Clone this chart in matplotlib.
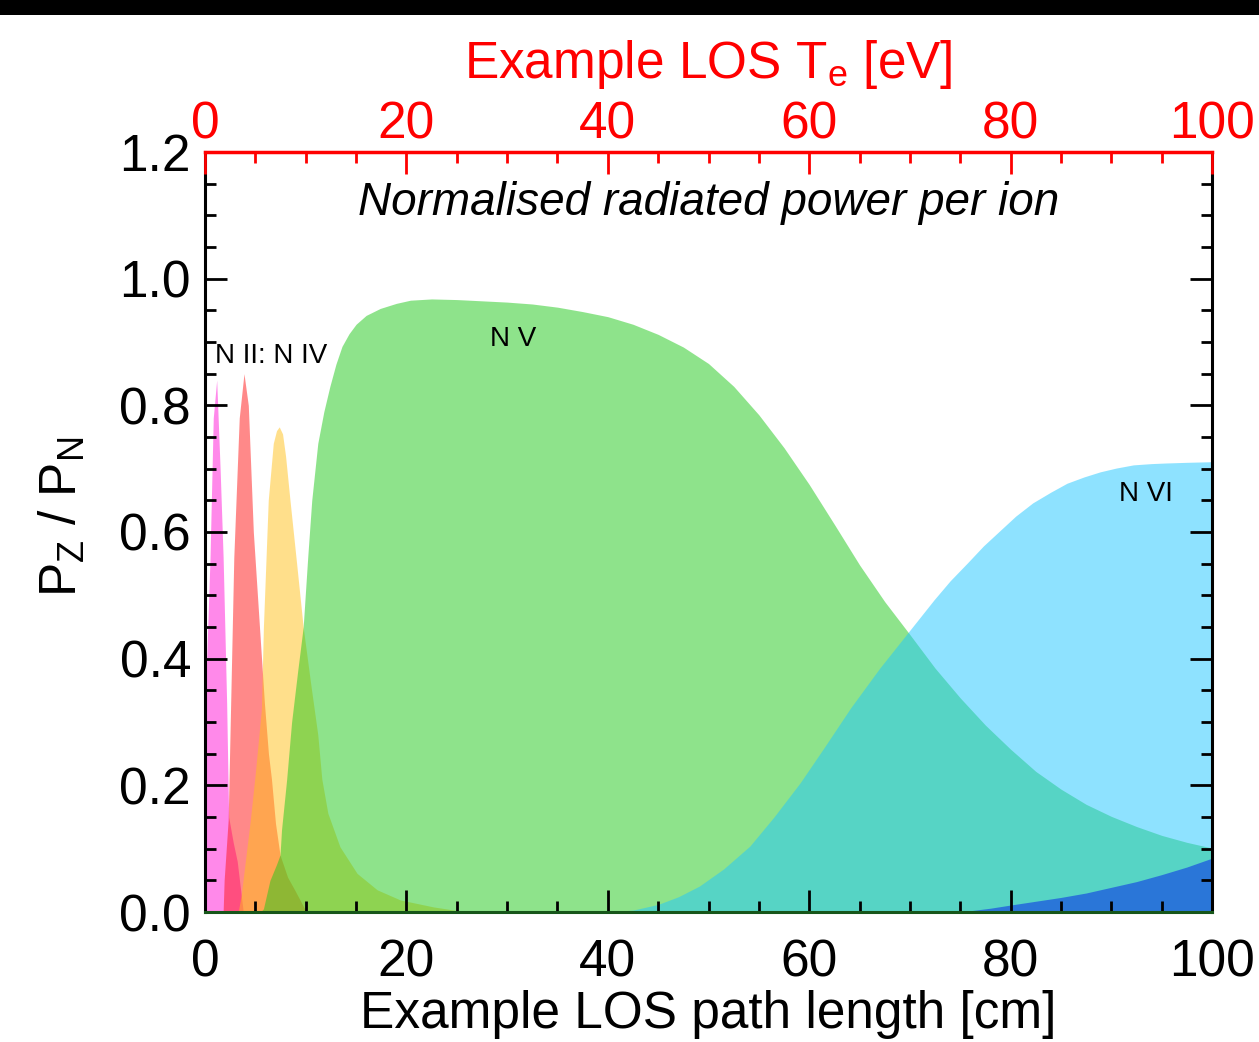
import numpy as np
import matplotlib
matplotlib.use("Agg")
import matplotlib.pyplot as plt
from matplotlib.ticker import MultipleLocator, FormatStrFormatter
from matplotlib.patches import Rectangle

plt.rcParams['font.family'] = ['Liberation Sans', 'DejaVu Sans']

# ---- data ----
# path length [cm] / normalised radiated power per ion
pink_x = [0.0, 0.5, 0.82, 1.16, 1.5, 1.8, 2.15, 2.35, 2.8, 3.2, 3.8]
pink_y = [0.32, 0.56, 0.78, 0.84, 0.70, 0.56, 0.33, 0.15, 0.11, 0.08, 0.0]

red_x = [1.8, 1.9, 2.3, 2.55, 2.86, 3.4, 3.87, 4.3, 4.8, 5.45, 5.9, 6.3, 6.6, 7.0, 7.45, 8.2, 8.9, 9.9, 10.3]
red_y = [0.0, 0.05, 0.145, 0.33, 0.56, 0.78, 0.85, 0.80, 0.60, 0.44, 0.33, 0.25, 0.21, 0.14, 0.09, 0.055, 0.035, 0.005, 0.0]

yel_x = [3.3, 3.6, 4.5, 5.0, 5.6, 5.8, 6.28, 6.78, 7.1, 7.37, 7.7, 8.0, 8.44, 9.1, 9.75, 10.5, 11.2,
         11.6, 12.2, 13.4, 15.1, 17.1, 19.4, 22.7, 26.0]
yel_y = [0.0, 0.027, 0.145, 0.22, 0.32, 0.45, 0.65, 0.74, 0.76, 0.766, 0.755, 0.72, 0.65, 0.55, 0.45, 0.36, 0.28,
         0.21, 0.156, 0.103, 0.061, 0.035, 0.019, 0.008, 0.0]

grn_x = [5.5, 5.8, 6.45, 7.1, 7.45, 7.6, 8.1, 8.6, 9.2, 9.75, 10.2, 10.6, 11.2, 11.8, 12.4, 13.0, 13.6,
         14.3, 15.0, 16.0, 17.4, 19.0, 20.4, 22.5, 25.0, 27.5, 30.0, 32.5, 35.0, 37.5, 40.0, 42.5,
         45.0, 47.5, 50.0, 52.5, 55.0, 57.5, 60.0, 62.5, 65.0, 67.5, 70.0, 72.5, 75.0, 77.5, 80.0,
         82.5, 85.0, 87.5, 90.0, 92.5, 95.0, 97.5, 100.0]
grn_y = [0.0, 0.005, 0.05, 0.075, 0.09, 0.13, 0.208, 0.30, 0.38, 0.45, 0.56, 0.65, 0.74, 0.79, 0.83, 0.865, 0.893,
         0.913, 0.928, 0.942, 0.953, 0.961, 0.966, 0.968, 0.967, 0.965, 0.963, 0.960, 0.955, 0.948, 0.940, 0.928,
         0.912, 0.892, 0.866, 0.830, 0.785, 0.733, 0.675, 0.612, 0.548, 0.490, 0.438, 0.385, 0.338, 0.295, 0.257,
         0.222, 0.194, 0.170, 0.151, 0.135, 0.121, 0.110, 0.101]

cyn_x = [40.0, 42.5, 45.0, 47.0, 49.1, 51.5, 54.1, 56.5, 59.1, 61.5, 64.1, 67.0, 69.8, 72.4, 74.0, 75.7,
         77.3, 79.0, 80.5, 82.2, 84.0, 85.6, 87.3, 88.9, 90.5, 92.2, 94.0, 95.5, 97.5, 100.0]
cyn_y = [0.0, 0.003, 0.012, 0.024, 0.041, 0.068, 0.104, 0.150, 0.204, 0.260, 0.322, 0.385, 0.441, 0.493, 0.523, 0.551,
         0.578, 0.603, 0.625, 0.646, 0.663, 0.677, 0.687, 0.695, 0.701, 0.706, 0.708, 0.709, 0.710, 0.711]

blu_x = [74.0, 76.0, 78.0, 80.0, 82.5, 85.0, 87.5, 90.0, 92.5, 95.0, 97.5, 100.0]
blu_y = [0.0, 0.002, 0.006, 0.011, 0.017, 0.023, 0.030, 0.039, 0.048, 0.059, 0.071, 0.085]

x_ticks = [0, 20, 40, 60, 80, 100]
te_ticks = [0, 20, 40, 60, 80, 100]
y_ticks = [0.0, 0.2, 0.4, 0.6, 0.8, 1.0, 1.2]

labels = [("N II: N IV", 6.6, 0.878), ("N V", 30.6, 0.904), ("N VI", 93.4, 0.66)]

series = [
    (pink_x, pink_y, '#ff15d7'),
    (red_x, red_y, '#ff1515'),
    (yel_x, yel_y, '#ffc119'),
    (grn_x, grn_y, '#1fc919'),
    (cyn_x, cyn_y, '#1fc7ff'),
    (blu_x, blu_y, '#0019eb'),
]

# ---- figure ----
fig = plt.figure(figsize=(12.59, 10.42), dpi=100)
fig.patches.append(Rectangle((0, 1 - 15 / 1042), 1, 15 / 1042, transform=fig.transFigure,
                             facecolor='black', edgecolor='none', zorder=0))

ax = fig.add_axes([205 / 1259, 1 - 912 / 1042, 1007 / 1259, 760 / 1042])

for xs, ys, c in series:
    ax.fill_between(xs, ys, 0, color=c, alpha=0.5, lw=0)

ax.set_xlim(0, 100)
ax.set_ylim(0, 1.2)

ax.xaxis.set_minor_locator(MultipleLocator(5))
ax.yaxis.set_minor_locator(MultipleLocator(0.05))
ax.set_xticks(x_ticks)
ax.set_xticklabels([str(t) for t in x_ticks])
ax.set_yticks(y_ticks)
ax.yaxis.set_major_formatter(FormatStrFormatter('%.1f'))

ax.tick_params(which='both', direction='in', top=False, right=True, width=2,
               labelsize=37, color='black')
ax.tick_params(which='major', length=16)
ax.tick_params(which='minor', length=8)
ax.tick_params(axis='x', pad=19)
ax.tick_params(axis='y', pad=10)

for s in ['left', 'right']:
    ax.spines[s].set_linewidth(2.2)
    ax.spines[s].set_color('black')
ax.spines['bottom'].set_linewidth(2.2)
ax.spines['bottom'].set_color('#17561a')
ax.spines['top'].set_visible(False)

ax.set_xlabel('Example LOS path length [cm]', fontsize=37, labelpad=2)
ax.set_ylabel(r'P$_\mathregular{Z}$ / P$_\mathregular{N}$', fontsize=37)
ax.yaxis.set_label_coords(-0.117, 0.52)

ax2 = ax.twiny()
ax2.set_xlim(0, 100)
ax2.set_xticks(te_ticks)
ax2.set_xticklabels([str(t) for t in te_ticks])
ax2.xaxis.set_minor_locator(MultipleLocator(5))
ax2.tick_params(which='both', direction='in', width=2, color='red', labelcolor='red', labelsize=37, pad=2)
ax2.tick_params(which='major', length=16)
ax2.tick_params(which='minor', length=8)
for s in ['left', 'right', 'bottom']:
    ax2.spines[s].set_visible(False)
ax2.spines['top'].set_color('red')
ax2.spines['top'].set_linewidth(2.5)
ax2.set_xlabel(r'Example LOS T$_\mathregular{e}$ [eV]', fontsize=37, color='red', labelpad=16)

ax.text(50, 1.12, 'Normalised radiated power per ion', fontsize=33, style='italic',
        ha='center', va='center')
for txt, lx, ly in labels:
    ax.text(lx, ly, txt, fontsize=20, ha='center', va='center')

fig.savefig('out.png', dpi=100, facecolor='white')
